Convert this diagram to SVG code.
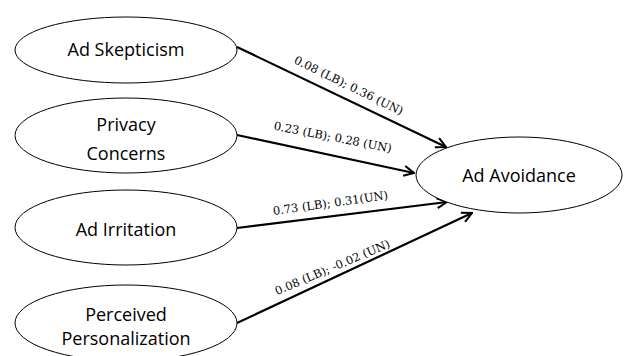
<svg xmlns="http://www.w3.org/2000/svg" width="625" height="356" viewBox="0 0 625 356">
  <style>
    .node ellipse { fill: #ffffff; stroke: #000000; stroke-width: 1; }
    .node text { font-family: "Open Sans", "Liberation Sans", sans-serif; font-size: 18px; fill: #000000; text-anchor: middle; }
    .edge line { stroke: #000000; stroke-width: 2.2; }
    .lbl { font-family: "DejaVu Serif", "Liberation Serif", serif; font-size: 11.5px; fill: #000000; text-anchor: middle; }
  </style>
  <defs>
    <marker id="arrow" viewBox="0 0 12 12" refX="11" refY="6" markerWidth="12" markerHeight="12" markerUnits="userSpaceOnUse" orient="auto">
      <polyline points="1,1 11,6 1,11" fill="none" stroke="#000000" stroke-width="2"/>
    </marker>
  </defs>
  <rect width="625" height="356" fill="#ffffff"/>

  <g id="connectors" class="edge">
    <line x1="237" y1="47" x2="446" y2="147" marker-end="url(#arrow)"/>
    <line x1="237" y1="135" x2="414" y2="173" marker-end="url(#arrow)"/>
    <line x1="237" y1="228" x2="447" y2="202" marker-end="url(#arrow)"/>
    <line x1="237" y1="323" x2="472" y2="213" marker-end="url(#arrow)"/>
  </g>

  <g id="edge-labels">
    <text class="lbl" transform="translate(347,89) rotate(26)">0.08 (LB); 0.36 (UN)</text>
    <text class="lbl" transform="translate(332,141) rotate(11)">0.23 (LB); 0.28 (UN)</text>
    <text class="lbl" transform="translate(331,207) rotate(-8)">0.73 (LB); 0.31(UN)</text>
    <text class="lbl" transform="translate(334,271) rotate(-23)">0.08 (LB); -0.02 (UN)</text>
  </g>

  <g id="ad-skepticism" class="node">
    <ellipse cx="126" cy="50" rx="111" ry="33"/>
    <text x="126" y="56">Ad Skepticism</text>
  </g>
  <g id="privacy-concerns" class="node">
    <ellipse cx="126" cy="135.5" rx="111" ry="37.5"/>
    <text x="126" y="131">Privacy</text>
    <text x="126" y="160">Concerns</text>
  </g>
  <g id="ad-irritation" class="node">
    <ellipse cx="126" cy="227.5" rx="111" ry="37.5"/>
    <text x="126" y="236">Ad Irritation</text>
  </g>
  <g id="perceived-personalization" class="node">
    <ellipse cx="126" cy="323" rx="111" ry="38"/>
    <text x="126" y="321">Perceived</text>
    <text x="126" y="345">Personalization</text>
  </g>
  <g id="ad-avoidance" class="node">
    <ellipse cx="519" cy="175" rx="103" ry="38"/>
    <text x="519" y="182">Ad Avoidance</text>
  </g>
</svg>
